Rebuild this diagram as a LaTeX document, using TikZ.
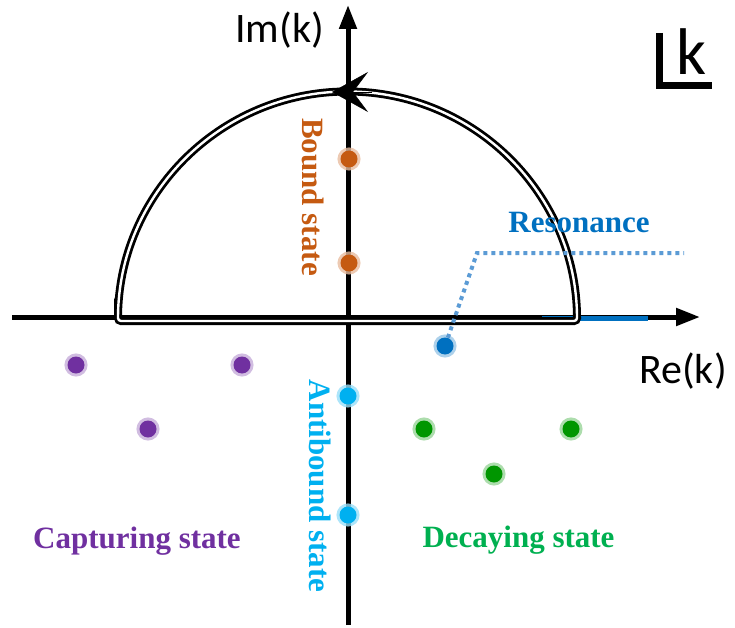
\documentclass[tikz,border=0pt]{standalone}
\usepackage{fontspec}
\setmainfont{Liberation Serif}
\newfontfamily\calibri{Carlito}
\usetikzlibrary{arrows.meta}

\definecolor{boundcol}{RGB}{197,90,17}
\definecolor{resocol}{RGB}{0,112,192}
\definecolor{leadcol}{RGB}{91,155,213}
\definecolor{anticol}{RGB}{0,176,240}
\definecolor{capcol}{RGB}{112,48,160}
\definecolor{decaydot}{RGB}{0,150,0}
\definecolor{decaycol}{RGB}{0,176,80}

\begin{document}
\begin{tikzpicture}[x=1pt,y=1pt,yscale=-1,xscale=1,
  axis/.style={line width=5pt,-{Triangle[length=24pt,width=17pt]}},
  contour/.style={draw=black,double=white,line width=2.8pt,double distance=2.4pt,rounded corners=3pt},
  pole/.style={circle,inner sep=0pt,minimum size=17pt,fill=#1,
    preaction={draw=#1!40,line width=6pt,draw opacity=0.8}},
  lab/.style={font=\fontsize{31}{31}\selectfont\bfseries,text=#1},
  axlab/.style={font=\calibri\fontsize{42}{42}\selectfont,anchor=base}]
%set diagram size 735 x 628
\useasboundingbox (0,0) rectangle (735,628);

%Shape: Axes
\draw [axis] (12,317) -- (700,317) ;
\draw [axis] (348,625) -- (348,5) ;
%Shape: blue segment on the real axis
\draw [resocol,line width=5pt] (542,318) -- (648,318) ;
%Shape: Contour
\draw [contour] (118,321) -- (577,321) arc[start angle=0,end angle=-180,radius=229.5] -- cycle ;
\draw [line width=0.5pt,-{Stealth[length=36pt,width=40pt,inset=15pt]}] (372,92) -- (332,92) ;

% Poles
\node [pole=boundcol] (b1) at (349,159) {};
\node [pole=boundcol] (b2) at (349,263) {};
\node [pole=resocol] (r1) at (445,346) {};
\node [pole=anticol] (a1) at (348,396) {};
\node [pole=anticol] (a2) at (348,515) {};
\node [pole=capcol] (c1) at (76,365) {};
\node [pole=capcol] (c2) at (242,365) {};
\node [pole=capcol] (c3) at (148,429) {};
\node [pole=decaydot] (d1) at (424,429) {};
\node [pole=decaydot] (d2) at (571,429) {};
\node [pole=decaydot] (d3) at (494,474) {};

%Shape: leader to the resonance label
\coordinate (bend) at (477,253);
\coordinate (tail) at (684,253);
\draw [leadcol,line width=4pt,dash pattern={on 4pt off 4pt}] (r1) -- (bend) -- (tail) ;

% Text Node
\node [axlab] (im) at (279.5,43) {Im(k)};
% Text Node
\node [axlab] (re) at (683,383) {Re(k)};
% Text Node
\node [font=\calibri\fontsize{66}{66}\selectfont,anchor=base] (kk) at (691.5,75) {k};
\draw [line width=7pt] (659.5,33) -- (659.5,86) -- (712,86) ;
% Text Node
\node [lab=resocol,anchor=base] (reso) at (579,233) {Resonance};
% Text Node
\node [lab=boundcol,anchor=base,rotate=-90] (bound) at (302,197) {Bound state};
% Text Node
\node [lab=anticol,anchor=base,rotate=-90] (anti) at (309,486) {Antibound state};
% Text Node
\node [lab=capcol,anchor=base] (cap) at (137,548) {Capturing state};
% Text Node
\node [lab=decaycol,anchor=base] (decay) at (518.5,547) {Decaying state};

\end{tikzpicture}
\end{document}
